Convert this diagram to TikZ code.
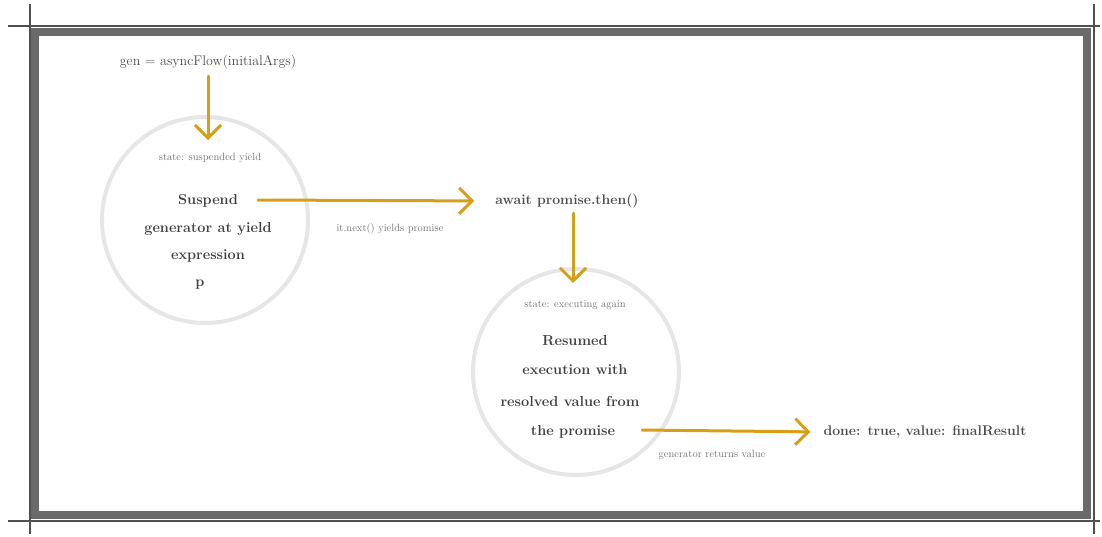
\documentclass[tikz,border=0pt]{standalone}
\usetikzlibrary{arrows.meta}
\definecolor{gold}{RGB}{214,160,22}
\definecolor{framec}{RGB}{80,80,80}
\definecolor{ringc}{RGB}{230,230,230}
\begin{document}
\begin{tikzpicture}[x=1pt,y=-1pt,
  flow/.style={draw=gold, line width=3pt, line cap=round,
    -{Straight Barb[length=13pt,width=26pt,line width=3pt]}},
  ring/.style={draw=ringc, line width=4pt, circle, minimum size=206pt, inner sep=0pt},
  plain/.style={text=black!70, font=\fontsize{14}{16}\selectfont, inner sep=1pt},
  strong/.style={text=black!75, font=\bfseries\fontsize{14.5}{16}\selectfont, inner sep=1pt},
  title/.style={text=black!55, font=\fontsize{10.5}{12}\selectfont, inner sep=1pt},
  edgelab/.style={text=black!55, font=\fontsize{10.5}{12}\selectfont, inner sep=1pt}]
\useasboundingbox (0,0) rectangle (1102,536);
% frame
\draw[framec, line width=8pt, opacity=0.85] (35,32) rectangle (1087,515);
\draw[framec, line width=1.2pt] (8,26) -- (1100,26);
\draw[framec, line width=1.2pt] (8,521) -- (1100,521);
\draw[framec, line width=1.2pt] (30,4) -- (30,534);
\draw[framec, line width=1.2pt] (1094,4) -- (1094,534);
% circles
\node[ring] (c1) at (205,220) {};
\node[ring] (c2) at (576,372) {};
% texts
\node[plain] (st) at (208,62) {gen = asyncFlow(initialArgs)};
\node[title] (t1) at (210,158) {state: suspended yield};
\node[strong] (a1) at (208,201) {Suspend};
\node[strong] (a2) at (208,229) {generator at yield};
\node[strong] (a3) at (208,256) {expression};
\node[strong] (a4) at (200,285) {p};
\node[plain, font=\bfseries\fontsize{14}{16}\selectfont] (m1) at (567,201) {await promise.then()};
\node[edgelab] (l1) at (390,229) {it.next() yields promise};
\node[title] (t2) at (575,305) {state: executing again};
\node[strong] (b1) at (575,341) {Resumed};
\node[strong] (b2) at (575,370) {execution with};
\node[strong] (b3) at (570,401) {resolved value from};
\node[strong] (b4) at (573,432) {the promise};
\node[edgelab] (l2) at (712,455) {generator returns value};
\node[plain, font=\bfseries\fontsize{14}{16}\selectfont] (e1) at (925,432) {done: true, value: finalResult};
% connectors
\coordinate (c1in) at (208,140);
\coordinate (c1out) at (258,200);
\coordinate (c2in) at (573,283);
\coordinate (c2out) at (642,430);
\draw[flow, shorten <=6pt] (st.south -| c1in) -- (c1in);
\draw[flow, shorten >=20pt] (c1out) -- (m1.west);
\draw[flow, shorten <=4pt] (m1.south -| c2in) -- (c2in);
\draw[flow, shorten >=12pt] (c2out) -- (e1.west);
\end{tikzpicture}
\end{document}
